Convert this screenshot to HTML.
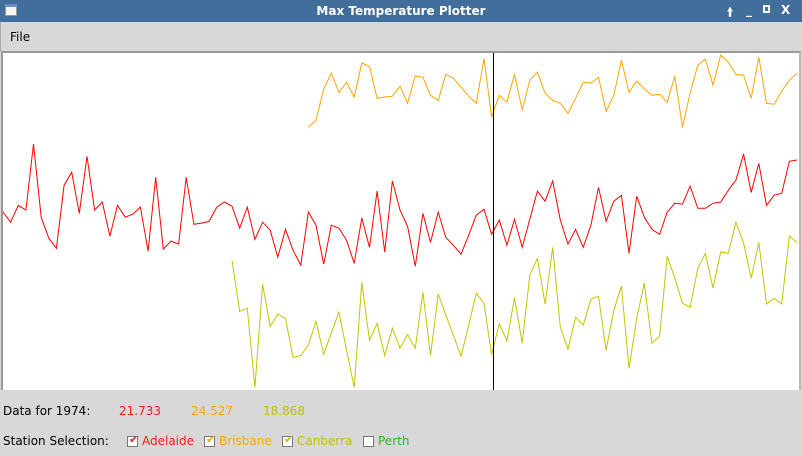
<!DOCTYPE html>
<html><head><meta charset="utf-8">
<style>
html,body{margin:0;padding:0;}
body{width:802px;height:456px;position:relative;overflow:hidden;background:#d8d8d8;font-family:"DejaVu Sans","Liberation Sans",sans-serif;font-size:12px;}
#titlebar{position:absolute;left:0;top:0;width:802px;height:22px;background:#416e9a;color:#fff;}
#title{position:absolute;left:0;right:0;top:4px;text-align:center;font-weight:bold;font-size:12px;}
#win-icon{position:absolute;left:5px;top:4px;width:12px;height:12px;background:#f4f4f4;border:1px solid #999;border-top:3px solid #6a8fc0;box-sizing:border-box;}
.wbtn{position:absolute;top:3px;color:#fff;font-weight:bold;font-size:12px;}
#menubar{position:absolute;left:0;top:22px;width:802px;height:29px;border-left:1px solid #aaa;box-sizing:border-box;}
#file-menu{position:absolute;left:9px;top:8px;color:#000;}
#plot-frame{position:absolute;left:1px;top:51px;width:800px;height:339px;border-top:2px solid #999;border-left:2px solid #999;border-right:2px solid #bbb;box-sizing:border-box;background:#fff;}
#chart{position:absolute;left:0;top:0;}
.lbl{position:absolute;white-space:nowrap;}
.cb{position:absolute;top:436px;width:11px;height:11px;background:#fff;border:1px solid #777;box-sizing:border-box;}
.cb span{position:absolute;left:1px;top:-4px;font-size:11px;font-weight:bold;}
</style></head><body>
<div id="titlebar">
  <div id="win-icon"></div>
  <div id="title">Max Temperature Plotter</div>
  <div class="wbtn" style="left:727px">&#129049;</div>
  <div class="wbtn" style="left:746px">_</div>
  <div class="wbtn" style="left:763px;top:5px;width:7px;height:8px;border:2px solid #fff;box-sizing:border-box"></div>
  <div class="wbtn" style="left:781px">X</div>
</div>
<div id="menubar">
  <div id="file-menu">File</div>
</div>
<div id="plot-frame"></div>
<svg id="chart" width="802" height="456"></svg>

<div class="lbl" style="left:3px;top:404px">Data for 1974:</div>
<div class="lbl" style="left:119px;top:404px;color:#ff1a1a">21.733</div>
<div class="lbl" style="left:191px;top:404px;color:#ffa500">24.527</div>
<div class="lbl" style="left:263px;top:404px;color:#bfbf00">18.868</div>

<div class="lbl" style="left:3px;top:434px">Station Selection:</div>
<div class="cb" style="left:127px"><span style="color:#ff1a1a">&#10004;</span></div>
<div class="lbl" style="left:142px;top:434px;color:#ff1a1a">Adelaide</div>
<div class="cb" style="left:204px"><span style="color:#ffa500">&#10004;</span></div>
<div class="lbl" style="left:219px;top:434px;color:#ffa500">Brisbane</div>
<div class="cb" style="left:282px"><span style="color:#bfbf00">&#10004;</span></div>
<div class="lbl" style="left:297px;top:434px;color:#bfbf00">Canberra</div>
<div class="cb" style="left:363px"></div>
<div class="lbl" style="left:378px;top:434px;color:#22bb22">Perth</div>

<script>
const startYear = 1910;
const endYear = 2014;
const selectedYear = 1974;
const adelaideStart = 1910;
const adelaide = [22.26,22.02,22.42,22.31,23.88,22.14,21.64,21.40,22.90,23.21,22.23,23.59,22.31,22.50,21.69,22.42,22.14,22.21,22.38,21.33,23.09,21.38,21.57,21.50,23.09,21.97,22.00,22.04,22.38,22.50,22.40,21.88,22.38,21.61,22.02,21.83,21.19,21.85,21.35,21.00,22.26,21.95,21.02,21.95,21.88,21.59,21.04,22.12,21.42,22.76,21.31,23.00,22.31,21.92,20.97,22.23,21.54,22.26,21.66,21.47,21.26,21.71,22.19,22.33,21.733,22.07,21.47,22.09,21.42,22.09,22.76,22.52,23.00,22.07,21.50,21.85,21.42,21.95,22.85,22.04,22.52,22.66,21.28,22.64,22.14,21.85,21.73,22.26,22.47,22.45,22.88,22.35,22.35,22.47,22.50,22.78,23.02,23.64,22.73,23.42,22.42,22.66,22.71,23.47,23.50];
const brisbaneStart = 1950;
const brisbane = [24.28,24.45,25.19,25.57,25.11,25.35,25.00,25.81,25.73,24.97,25.00,25.02,25.26,24.85,25.50,25.47,25.04,24.92,25.54,25.45,25.23,25.02,24.85,25.92,24.527,25.04,24.88,25.54,24.69,25.40,25.59,25.09,24.92,24.85,24.61,24.97,25.35,25.33,25.47,24.66,25.04,25.88,25.11,25.38,25.19,25.04,25.07,24.88,25.50,24.28,25.09,25.76,25.90,25.28,26.00,25.83,25.54,25.52,24.97,25.95,24.85,24.83,25.14,25.40,25.57];
const canberraStart = 1940;
const canberra = [21.11,19.90,19.97,18.09,20.54,19.54,19.83,19.73,18.80,18.85,19.09,19.66,18.88,19.38,19.88,18.97,18.09,20.59,19.21,19.61,18.85,19.50,19.02,19.35,19.02,20.35,18.85,20.31,19.81,19.33,18.83,19.57,20.33,20.09,18.868,19.61,19.19,20.23,19.14,20.76,21.16,20.07,21.42,19.52,19.00,19.76,19.57,20.19,20.26,18.97,19.92,20.50,18.54,19.73,20.57,19.14,19.31,21.21,20.69,20.09,20.00,20.92,21.28,20.45,21.31,21.28,22.02,21.52,20.69,21.54,20.07,20.21,20.07,21.69,21.54];
const yMax = 26.0;
const yMin = 18.05;

const svg = document.getElementById('chart');
const NS = 'http://www.w3.org/2000/svg';
function xScale(yr){ return 3 + (yr - startYear) / (endYear - startYear) * 794; }
function yScale(t){ return 55 + (yMax - t) / (yMax - yMin) * 334; }
function drawSeries(vals, start, color, name){
  const pts = vals.map((v,i)=> xScale(start+i).toFixed(1)+','+yScale(v).toFixed(1)).join(' ');
  const pl = document.createElementNS(NS,'polyline');
  pl.setAttribute('points', pts);
  pl.setAttribute('fill','none');
  pl.setAttribute('stroke', color);
  pl.setAttribute('stroke-width','1');
  
  
  svg.appendChild(pl);
}
drawSeries(adelaide, adelaideStart, '#ff0000', 'adelaide-line');
drawSeries(brisbane, brisbaneStart, '#ffa500', 'brisbane-line');
drawSeries(canberra, canberraStart, '#c4c400', 'canberra-line');
const cur = document.createElementNS(NS,'line');
const cx = Math.round(xScale(selectedYear)) + 1.5;
cur.setAttribute('x1', cx); cur.setAttribute('x2', cx);
cur.setAttribute('y1', 53); cur.setAttribute('y2', 390);
cur.setAttribute('stroke', '#000'); cur.setAttribute('stroke-width', '1');


svg.appendChild(cur);
</script>
</body></html>
